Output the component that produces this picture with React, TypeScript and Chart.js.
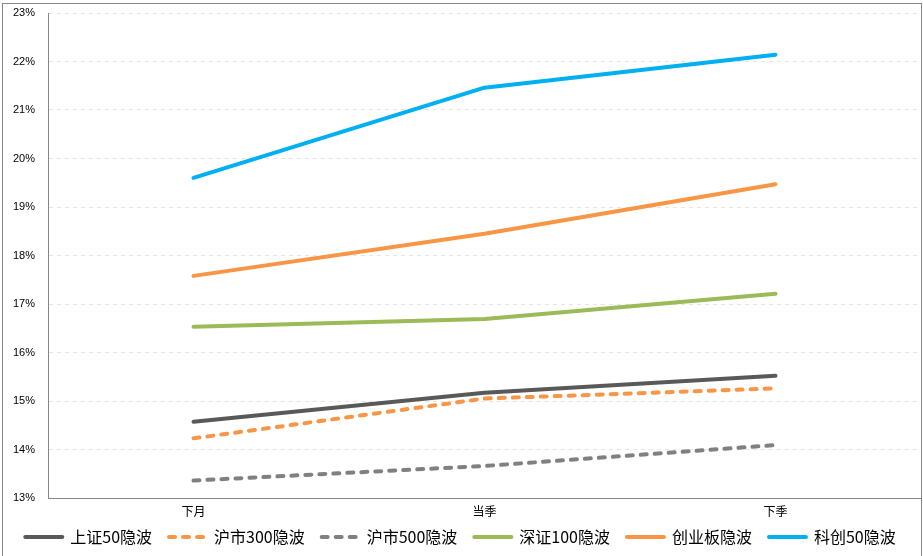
import React, { useEffect, useRef } from "react";
import { Chart, registerables } from "chart.js";

Chart.register(...registerables);

const categories = ["下月", "当季", "下季"];
const seriesNames = ["上证50隐波", "沪市300隐波", "沪市500隐波", "深证100隐波", "创业板隐波", "科创50隐波"];
const sz50 = [14.57, 15.17, 15.52];
const hs300 = [14.23, 15.05, 15.26];
const hs500 = [13.36, 13.66, 14.09];
const sz100 = [16.53, 16.69, 17.21];
const cyb = [17.58, 18.45, 19.47];
const kc50 = [19.6, 21.46, 22.14];
const yMin = 13;
const yMax = 23;

const colors = ["#595959", "#F79646", "#808080", "#9BBB59", "#F79646", "#00B0F0"];
const dashes: number[][] = [[], [6, 8], [6, 8], [], [], []];

export default function App() {
  const ref = useRef<HTMLCanvasElement | null>(null);
  useEffect(() => {
    if (!ref.current) return;
    const values = [sz50, hs300, hs500, sz100, cyb, kc50];
    const chart = new Chart(ref.current, {
      type: "line",
      data: {
        labels: categories,
        datasets: values.map((v, i) => ({
          label: seriesNames[i],
          data: v,
          borderColor: colors[i],
          backgroundColor: colors[i],
          borderWidth: 4,
          borderDash: dashes[i],
          borderCapStyle: "round" as const,
          borderJoinStyle: "round" as const,
          pointRadius: 0,
          tension: 0,
          fill: false,
        })),
      },
      options: {
        animation: false,
        responsive: false,
        maintainAspectRatio: false,
        layout: { padding: { top: 13, right: 2, left: 0, bottom: 1 } },
        plugins: {
          tooltip: { enabled: false },
          legend: {
            position: "bottom",
            labels: {
              usePointStyle: true,
              pointStyle: "line",
              pointStyleWidth: 37,
              boxHeight: 16,
              padding: 17,
              color: "#000",
              font: { size: 16, family: "'Microsoft YaHei', 'Noto Sans CJK SC', sans-serif" },
              generateLabels: (c: any) =>
                c.data.datasets.map((ds: any, i: number) => ({
                  text: ds.label,
                  fillStyle: ds.borderColor,
                  strokeStyle: ds.borderColor,
                  lineWidth: 4,
                  lineDash: ds.borderDash || [],
                  lineCap: "round",
                  pointStyle: "line",
                  hidden: false,
                  datasetIndex: i,
                  fontColor: "#000",
                })),
            },
          },
        },
        scales: {
          x: {
            offset: true,
            grid: { display: false, drawTicks: false },
            border: { display: true, color: "#868686", width: 1 },
            ticks: {
              padding: 6,
              color: "#000",
              font: { size: 12, family: "'Noto Sans CJK SC', sans-serif" },
            },
            afterFit: (s: any) => {
              s.height = 14;
              s._computeLabelArea = () => undefined;
            },
          },
          y: {
            min: yMin,
            max: yMax,
            grid: { color: "#E6E6E6", lineWidth: 1, drawTicks: false },
            border: { display: true, color: "#868686", width: 1, dash: [4, 4] },
            ticks: {
              stepSize: 1,
              padding: 13,
              color: "#000",
              font: { size: 11, family: "'Liberation Sans', 'DejaVu Sans', sans-serif" },
              callback: (v: any) => `${v}%`,
            },
            afterFit: (s: any) => {
              s.width = 48;
              s.paddingTop = 0;
              s.paddingBottom = 0;
            },
          },
        },
      },
    });
    return () => chart.destroy();
  }, []);
  return (
    <div style={{ position: "fixed", left: 0, top: 0, width: 923, height: 556, background: "#fff", overflow: "hidden" }}>
      <canvas ref={ref} width={923} height={556} style={{ position: "absolute", left: 0, top: 0, width: 923, height: 556 }} />
      <div
        style={{
          position: "absolute",
          left: 2,
          top: 3,
          width: 920,
          height: 600,
          border: "1px solid #868686",
          boxSizing: "border-box",
          pointerEvents: "none",
        }}
      />
    </div>
  );
}
